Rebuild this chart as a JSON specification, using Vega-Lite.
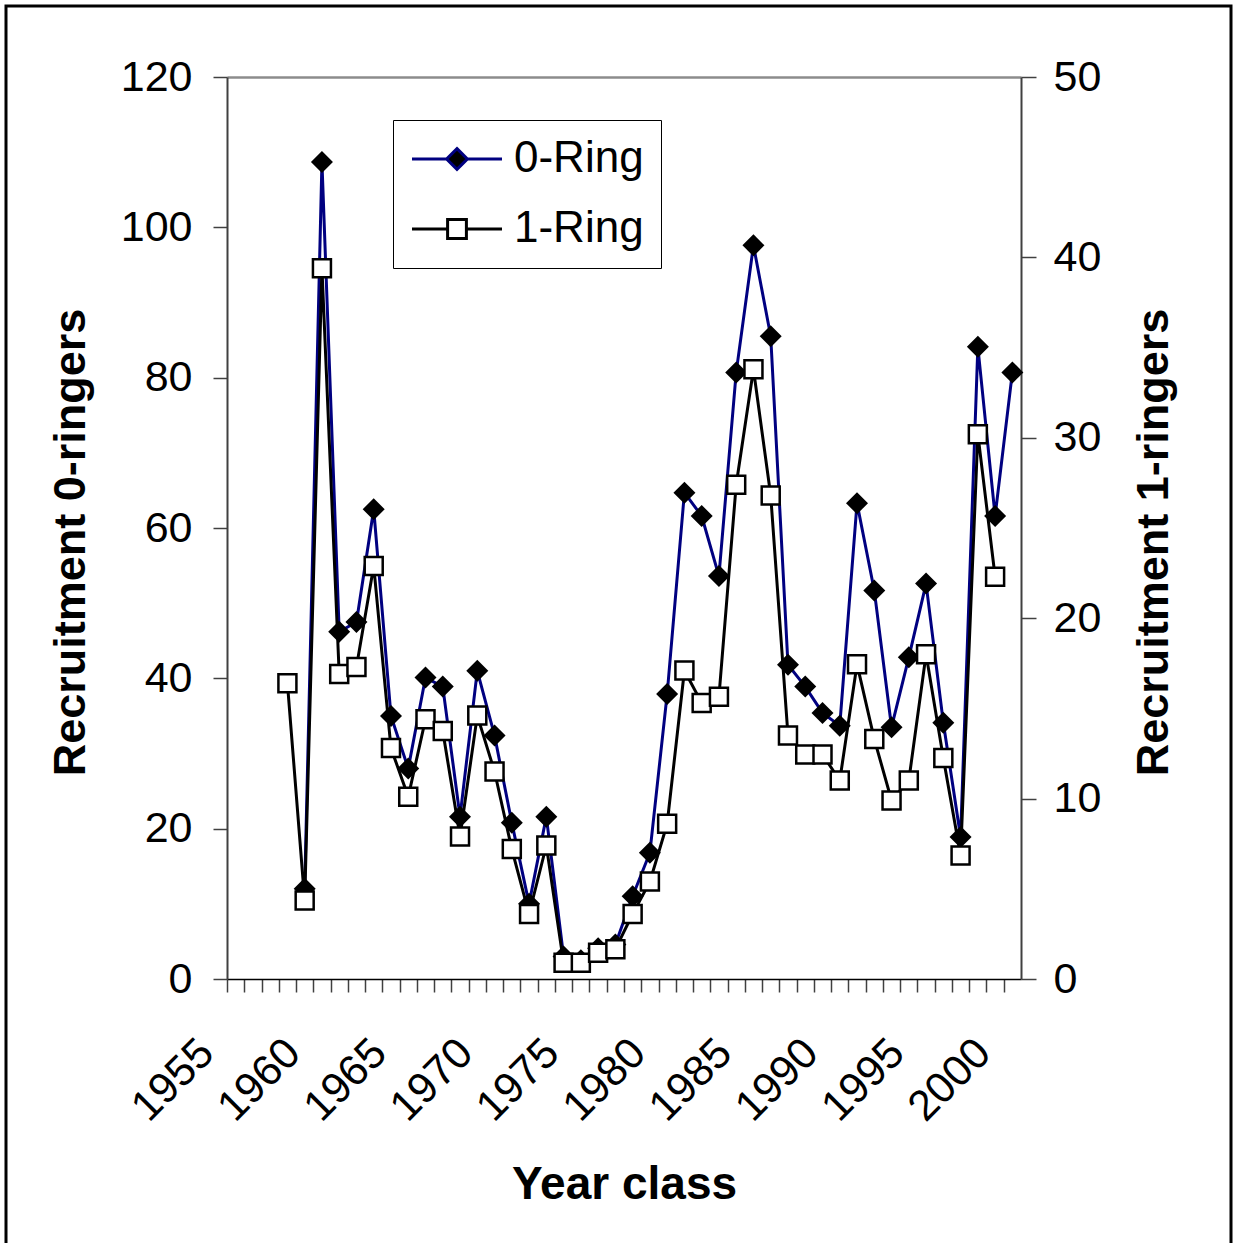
{
  "$schema": "https://vega.github.io/schema/vega-lite/v6.json",
  "width": 1225,
  "height": 1241,
  "autosize": {"type": "none"},
  "padding": {"left": 6, "top": 6, "right": 3, "bottom": -4},
  "background": "white",
  "config": {
    "view": {"stroke": "black", "strokeWidth": 3},
    "font": "Liberation Sans",
    "axis": {
      "labelFont": "Liberation Sans",
      "titleFont": "Liberation Sans",
      "labelColor": "black",
      "titleColor": "black",
      "grid": false,
      "domainColor": "#404040",
      "domainWidth": 2,
      "tickColor": "#404040",
      "tickWidth": 1.5,
      "labelFontSize": 43,
      "titleFontSize": 45,
      "titleFontWeight": "bold"
    }
  },
  "data": {
    "values": [
      {"year": 1958, "r0": null, "r1": 16.4},
      {"year": 1959, "r0": 12.0, "r1": 4.35},
      {"year": 1960, "r0": 108.7, "r1": 39.4},
      {"year": 1961, "r0": 46.2, "r1": 16.9},
      {"year": 1962, "r0": 47.5, "r1": 17.3},
      {"year": 1963, "r0": 62.5, "r1": 22.9},
      {"year": 1964, "r0": 35.0, "r1": 12.8},
      {"year": 1965, "r0": 28.0, "r1": 10.1},
      {"year": 1966, "r0": 40.1, "r1": 14.4},
      {"year": 1967, "r0": 38.9, "r1": 13.75},
      {"year": 1968, "r0": 21.6, "r1": 7.9},
      {"year": 1969, "r0": 41.0, "r1": 14.6},
      {"year": 1970, "r0": 32.4, "r1": 11.5},
      {"year": 1971, "r0": 20.8, "r1": 7.2},
      {"year": 1972, "r0": 10.0, "r1": 3.6},
      {"year": 1973, "r0": 21.6, "r1": 7.4},
      {"year": 1974, "r0": 3.0, "r1": 0.9},
      {"year": 1975, "r0": 2.5, "r1": 0.9},
      {"year": 1976, "r0": 4.1, "r1": 1.45},
      {"year": 1977, "r0": 4.6, "r1": 1.65},
      {"year": 1978, "r0": 11.0, "r1": 3.6},
      {"year": 1979, "r0": 16.8, "r1": 5.4},
      {"year": 1980, "r0": 37.9, "r1": 8.6},
      {"year": 1981, "r0": 64.7, "r1": 17.1},
      {"year": 1982, "r0": 61.6, "r1": 15.3},
      {"year": 1983, "r0": 53.6, "r1": 15.65},
      {"year": 1984, "r0": 80.7, "r1": 27.4},
      {"year": 1985, "r0": 97.6, "r1": 33.8},
      {"year": 1986, "r0": 85.5, "r1": 26.8},
      {"year": 1987, "r0": 41.8, "r1": 13.5},
      {"year": 1988, "r0": 38.9, "r1": 12.45},
      {"year": 1989, "r0": 35.4, "r1": 12.45},
      {"year": 1990, "r0": 33.7, "r1": 11.0},
      {"year": 1991, "r0": 63.3, "r1": 17.45},
      {"year": 1992, "r0": 51.7, "r1": 13.3},
      {"year": 1993, "r0": 33.5, "r1": 9.9},
      {"year": 1994, "r0": 42.8, "r1": 11.0},
      {"year": 1995, "r0": 52.6, "r1": 18.0},
      {"year": 1996, "r0": 34.1, "r1": 12.25},
      {"year": 1997, "r0": 18.9, "r1": 6.85},
      {"year": 1998, "r0": 84.1, "r1": 30.2},
      {"year": 1999, "r0": 61.6, "r1": 22.3},
      {"year": 2000, "r0": 80.7, "r1": null}
    ]
  },
  "layer": [
    {
      "encoding": {
        "x": {
          "field": "year",
          "type": "quantitative",
          "scale": {"domain": [1954.5, 2000.5], "range": [221, 1015], "nice": false, "zero": false},
          "axis": {
            "title": "Year class",
            "offset": -268,
            "values": [1955,1956,1957,1958,1959,1960,1961,1962,1963,1964,1965,1966,1967,1968,1969,1970,1971,1972,1973,1974,1975,1976,1977,1978,1979,1980,1981,1982,1983,1984,1985,1986,1987,1988,1989,1990,1991,1992,1993,1994,1995,1996,1997,1998,1999,2000,2001],
            "labelExpr": "(datum.value % 5 === 0 && datum.value < 2001) ? '' + datum.value : ''",
            "tickOffset": -8.63,
            "labelOffset": -20.4,
            "labelAngle": -45,
            "labelAlign": "right",
            "labelBaseline": "middle",
            "labelOverlap": false,
            "labelFlush": false,
            "tickSize": 13,
            "labelPadding": 54,
            "domainColor": "black",
            "domainWidth": 1.5,
            "titleFontSize": 46,
            "titleBaseline": "alphabetic",
            "titleAlign": "center",
            "titleX": 618,
            "titleY": 219
          }
        },
        "y": {
          "field": "r0",
          "type": "quantitative",
          "scale": {"domain": [0, 120], "range": [973, 71], "nice": false, "zero": false},
          "axis": {
            "title": "Recruitment 0-ringers",
            "offset": -221,
            "values": [0, 20, 40, 60, 80, 100, 120],
            "tickSize": 14,
            "labelPadding": 21,
            "titleAngle": 270,
            "titleAlign": "center",
            "titleBaseline": "alphabetic",
            "titleX": -143,
            "titleY": 536
          }
        }
      },
      "layer": [
        {
          "mark": {"type": "line", "strokeWidth": 3},
          "encoding": {
            "color": {
              "datum": "0-Ring",
              "scale": {"domain": ["0-Ring", "1-Ring"], "range": ["#000080", "#000000"]},
              "legend": {
                "title": null,
                "orient": "none",
                "legendX": 387,
                "legendY": 114,
                "strokeColor": "black",
                "fillColor": "white",
                "padding": 17,
                "labelFont": "Liberation Sans",
                "labelFontSize": 44,
                "labelColor": "black",
                "labelOffset": 60,
                "rowPadding": 26,
                "symbolSize": 1600,
                "symbolStrokeWidth": 3,
                "encode": {
                  "symbols": {
                    "update": {
                      "shape": {"signal": "datum.value === '0-Ring' ? 'M-1,0H0.7M1.8,0H3.5M1.25,-0.52L1.77,0L1.25,0.52L0.73,0Z' : 'M-1,0H0.78M1.72,0H3.5M0.78,-0.47H1.72V0.47H0.78Z'"},
                      "fill": {"signal": "datum.value === '0-Ring' ? 'black' : 'white'"},
                      "stroke": {"signal": "datum.value === '0-Ring' ? '#000080' : 'black'"},
                      "strokeWidth": {"value": 3},
                      "opacity": {"value": 1}
                    }
                  }
                }
              }
            }
          }
        },
        {
          "mark": {"type": "point", "shape": "diamond", "filled": true, "color": "black", "size": 484, "opacity": 1}
        }
      ]
    },
    {
      "encoding": {
        "x": {
          "field": "year",
          "type": "quantitative",
          "scale": {"domain": [1954.5, 2000.5], "range": [221, 1015], "nice": false, "zero": false},
          "axis": {
            "orient": "top",
            "offset": -71,
            "title": null,
            "labels": false,
            "ticks": false,
            "domainColor": "#8c8c8c",
            "domainWidth": 2.5
          }
        },
        "y": {
          "field": "r1",
          "type": "quantitative",
          "scale": {"domain": [0, 50], "range": [973, 71], "nice": false, "zero": false},
          "axis": {
            "orient": "right",
            "offset": -210,
            "title": "Recruitment 1-ringers",
            "values": [0, 10, 20, 30, 40, 50],
            "tickSize": 15,
            "labelPadding": 17,
            "titleAngle": 270,
            "titleAlign": "center",
            "titleBaseline": "alphabetic",
            "titleX": 146,
            "titleY": 536
          }
        }
      },
      "layer": [
        {
          "mark": {"type": "line", "strokeWidth": 3},
          "encoding": {"color": {"datum": "1-Ring"}}
        },
        {
          "mark": {"type": "point", "shape": "square", "filled": true, "fill": "white", "stroke": "black", "strokeWidth": 2.5, "size": 324, "opacity": 1}
        }
      ]
    }
  ],
  "resolve": {"scale": {"y": "independent"}, "axis": {"x": "independent"}}
}
